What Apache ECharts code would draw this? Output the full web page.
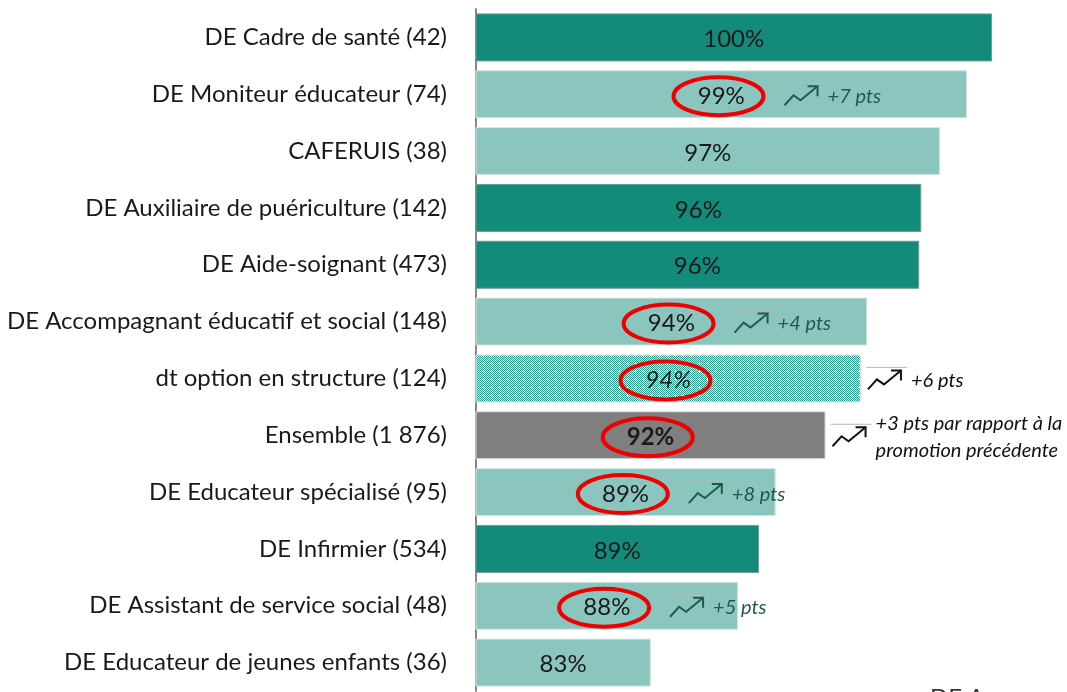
<!DOCTYPE html>
<html>
<head>
<meta charset="utf-8">
<script src="https://cdn.jsdelivr.net/npm/echarts@6/dist/echarts.min.js"></script>
<style>
    html, body { margin: 0; padding: 0; background: #fff; }
    #chart { width: 1067px; height: 692px; }
</style>
</head>
<body>
<div id="chart"></div>
<script>
var categories = ['DE Cadre de santé (42)', 'DE Moniteur éducateur (74)', 'CAFERUIS (38)',
    'DE Auxiliaire de puériculture (142)', 'DE Aide-soignant (473)',
    'DE Accompagnant éducatif et social (148)', 'dt option en structure (124)', 'Ensemble (1 876)',
    'DE Educateur spécialisé (95)', 'DE Infirmier (534)', 'DE Assistant de service social (48)',
    'DE Educateur de jeunes enfants (36)'];
var rates = [99.8, 98.6, 97.3, 96.4, 96.3, 93.8, 93.5, 91.8, 89.4, 88.6, 87.6, 83.4];
var sectors = ['sante', 'social', 'social', 'sante', 'sante', 'social', 'option', 'total',
    'social', 'sante', 'social', 'social'];
var evolutions = [null, '+7 pts', null, null, null, '+4 pts', '+6 pts',
    '+3 pts par rapport à la\npromotion précédente', '+8 pts', null, '+5 pts', null];

var xMin = 75;
var font = 'Lato';

// dotted fill for the "option" bar
function makePattern() {
    var c = document.createElement('canvas');
    c.width = 8;
    c.height = 8;
    var g = c.getContext('2d');
    g.fillStyle = '#d2ece8';
    g.fillRect(0, 0, 8, 8);
    g.fillStyle = '#2b9d8b';
    for (var y = 0; y < 8; y++) {
        for (var x = 0; x < 8; x++) {
            if ((x + y) % 2 === 0) g.fillRect(x, y, 1, 1);
        }
    }
    g.fillStyle = '#ffffff';
    g.fillRect(3, 2, 1, 3);
    g.fillRect(2, 3, 3, 1);
    g.fillRect(7, 6, 1, 1);
    return c;
}

var fills = {
    sante: '#138b7b',
    social: '#8bc6be',
    option: { image: makePattern(), repeat: 'repeat' },
    total: '#7f7f7f'
};

var barData = rates.map(function (v, i) {
    var s = sectors[i];
    return {
        value: v,
        itemStyle: { color: fills[s], borderColor: s === 'sante' ? '#6f9c95' : '#d6e4e1', borderWidth: 1 },
        label: {
            fontWeight: s === 'total' ? 'bold' : 'normal',
            fontStyle: s === 'option' ? 'italic' : 'normal'
        }
    };
});

var noteData = [];
evolutions.forEach(function (t, i) {
    if (t) noteData.push([rates[i], i, t]);
});

var chart = echarts.init(document.getElementById('chart'));
chart.setOption({
    animation: false,
    grid: { left: 476, right: 50, top: 9, bottom: 1 },
    xAxis: {
        type: 'value', min: xMin, max: 101,
        show: false
    },
    yAxis: {
        type: 'category',
        data: categories,
        inverse: true,
        axisLine: { lineStyle: { color: '#888', width: 2 } },
        axisTick: { length: 8, lineStyle: { color: '#888', width: 2 } },
        axisLabel: { fontFamily: font, fontSize: 24, color: '#1a1a1a', margin: 29 }
    },
    series: [
        {
            type: 'bar',
            barWidth: 48,
            data: barData,
            label: {
                show: true,
                position: 'inside',
                fontFamily: font,
                fontSize: 24,
                color: '#1a1a1a',
                offset: [0, 2],
                formatter: function (p) { return Math.round(p.value) + '%'; }
            },
            z: 2
        },
        {
            type: 'custom',
            data: noteData,
            encode: { x: 0, y: 1 },
            z: 3,
            silent: true,
            renderItem: function (params, api) {
                var i = api.value(1);
                var end = api.coord([api.value(0), i]);
                var start = api.coord([xMin, i]);
                var cx = (start[0] + end[0]) / 2;
                var cy = end[1];
                var outside = sectors[i] === 'option' || sectors[i] === 'total';
                var ix = outside ? end[0] + 5 : cx + 61;
                var ink = outside ? '#111' : '#1f5a51';
                var txt = noteData[params.dataIndex][2];
                return {
                    type: 'group',
                    children: [
                        {
                            type: 'ellipse',
                            shape: { cx: cx - 3, cy: cy + 2, rx: 45, ry: 19 },
                            style: { fill: 'none', stroke: '#ee0000', lineWidth: 4 }
                        },
                        {
                            type: 'line',
                            shape: { x1: ix, y1: cy - 11, x2: ix + 41, y2: cy - 11 },
                            style: { stroke: '#b8b8b8', lineWidth: 1 }
                        },
                        {
                            type: 'polyline',
                            shape: { points: [[ix + 2, cy + 11], [ix + 11, cy + 1], [ix + 18, cy + 6], [ix + 35, cy - 8]] },
                            style: { stroke: ink, lineWidth: 2, fill: null }
                        },
                        {
                            type: 'polyline',
                            shape: { points: [[ix + 25, cy - 8], [ix + 35, cy - 8], [ix + 35, cy + 2]] },
                            style: { stroke: ink, lineWidth: 2, fill: null }
                        },
                        {
                            type: 'text',
                            x: ix + 45,
                            y: cy + 2,
                            style: {
                                text: txt,
                                fill: ink,
                                font: 'italic 20px ' + font,
                                lineHeight: 27,
                                verticalAlign: 'middle'
                            }
                        }
                    ]
                };
            }
        }
    ],
    graphic: [
        {
            type: 'text', left: 930, top: 686,
            style: { text: 'DE Accompagnant', font: '24px ' + font, fill: '#333' }
        }
    ]
});
</script>
</body>
</html>
